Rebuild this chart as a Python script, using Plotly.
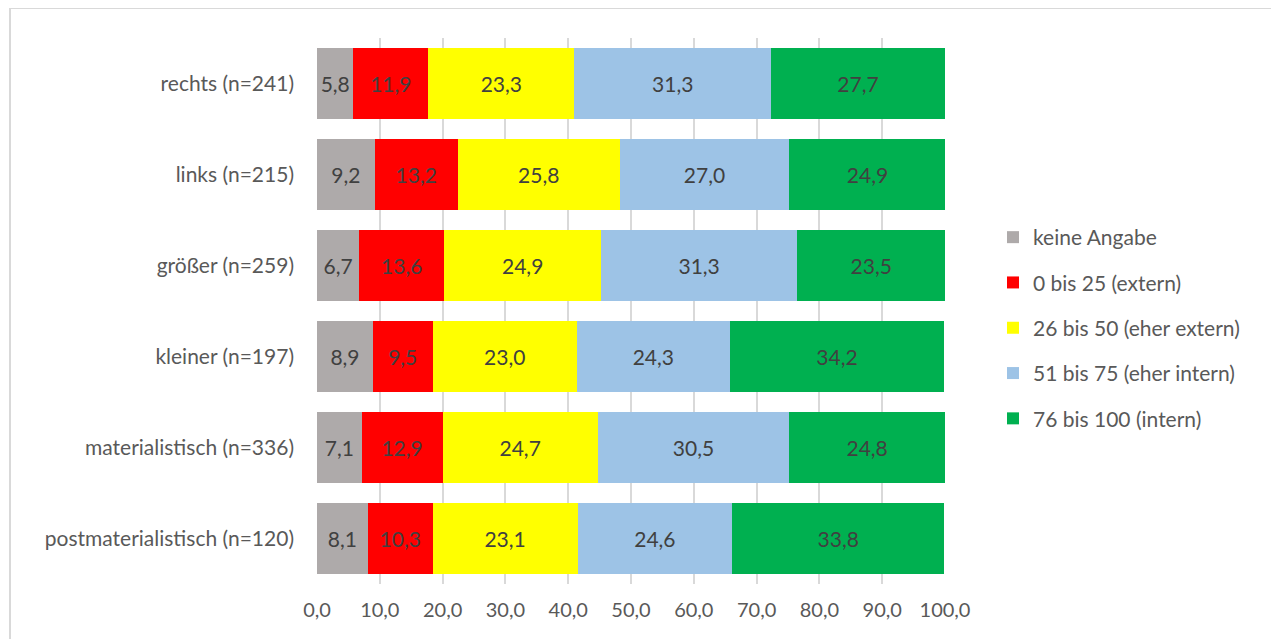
import plotly.graph_objects as go

categories = ["rechts (n=241)", "links (n=215)", "größer (n=259)", "kleiner (n=197)",
              "materialistisch (n=336)", "postmaterialistisch (n=120)"]
series_names = ["keine Angabe", "0 bis 25 (extern)", "26 bis 50 (eher extern)",
                "51 bis 75 (eher intern)", "76 bis 100 (intern)"]
keine_angabe = [5.8, 9.2, 6.7, 8.9, 7.1, 8.1]
bis_25 = [11.9, 13.2, 13.6, 9.5, 12.9, 10.3]
bis_50 = [23.3, 25.8, 24.9, 23.0, 24.7, 23.1]
bis_75 = [31.3, 27.0, 31.3, 24.3, 30.5, 24.6]
bis_100 = [27.7, 24.9, 23.5, 34.2, 24.8, 33.8]
colors = ["#AEAAAA", "#FF0000", "#FFFF00", "#9DC3E6", "#00B050"]

OFF = 8  # page body margin
W, H = 1279 - OFF, 639 - OFF
L, R, T, B = 317 - OFF, 945 - OFF, 38 - OFF, 584 - OFF
FONT = "Lato"
FS = 21

fig = go.Figure()
for name, vals, col in zip(series_names, [keine_angabe, bis_25, bis_50, bis_75, bis_100], colors):
    fig.add_trace(go.Bar(
        y=categories, x=vals, name=name, orientation="h",
        marker=dict(color=col, line=dict(width=0)),
        text=vals, texttemplate="%{x:.1f}", textposition="inside",
        insidetextanchor="middle",
        textfont=dict(color="#404040", size=FS, family=FONT),
        legendgroup=name, hoverinfo="skip",
    ))

def px_x(p):
    return (p - OFF - L) / (R - L)

def px_y(p):
    return (B - (p - OFF)) / (B - T)

fig.update_layout(
    width=W, height=H,
    margin=dict(l=L, r=W - R, t=T, b=H - B, autoexpand=False),
    barmode="stack", bargap=0.22,
    separators=",.",
    paper_bgcolor="white", plot_bgcolor="white",
    font=dict(family=FONT, color="#595959", size=FS),
    uniformtext=dict(mode="show", minsize=FS),
    legend=dict(x=px_x(993), y=px_y(328), xanchor="left", yanchor="middle",
                traceorder="grouped", tracegroupgap=15,
                font=dict(size=FS, color="#595959", family=FONT), itemwidth=30),
    showlegend=True,
    xaxis=dict(range=[0, 100], dtick=10, tickformat=".1f", showgrid=True,
               gridcolor="#D9D9D9", gridwidth=2, zeroline=False,
               ticks="", showline=False, ticklabelstandoff=12,
               tickfont=dict(size=20, color="#595959", family=FONT)),
    yaxis=dict(autorange="reversed", ticks="", showline=False, showgrid=False,
               ticklabelstandoff=22, tickfont=dict(size=FS, color="#595959", family=FONT)),
    shapes=[dict(type="rect", xref="paper", yref="paper",
                 x0=px_x(10), x1=px_x(1279 + 20), y0=px_y(8), y1=px_y(639 + 20),
                 line=dict(color="#D9D9D9", width=2), fillcolor="rgba(0,0,0,0)", layer="below")],
)

fig.write_html("out.html")
